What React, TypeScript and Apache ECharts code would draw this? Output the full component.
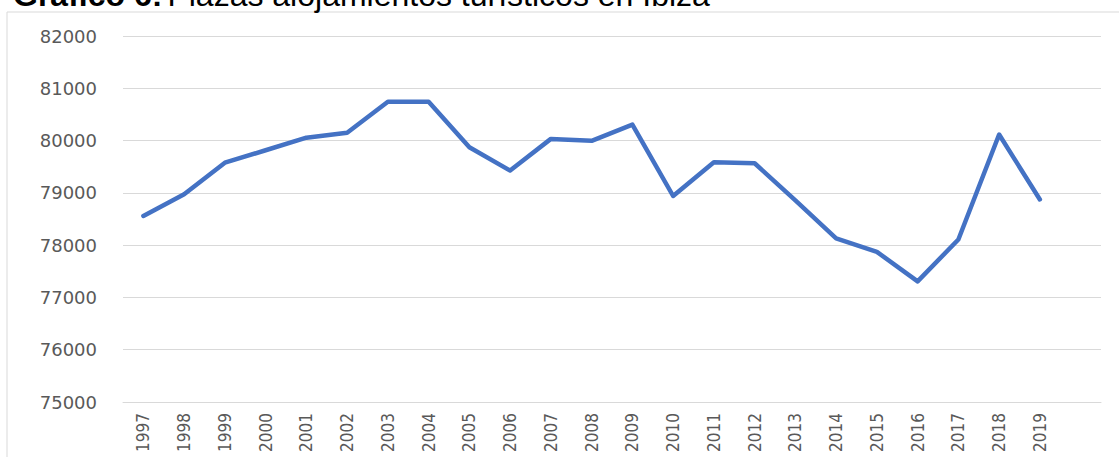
import React, { useEffect, useRef } from "react";
import * as echarts from "echarts";

const years = [
  "1997", "1998", "1999", "2000", "2001", "2002", "2003", "2004", "2005", "2006", "2007", "2008",
  "2009", "2010", "2011", "2012", "2013", "2014", "2015", "2016", "2017", "2018", "2019", "",
];
const plazas = [
  78558, 78973, 79577, 79815, 80055, 80151, 80744, 80744, 79872, 79426, 80032, 79995,
  80306, 78940, 79585, 79566, 78855, 78128, 77872, 77306, 78109, 80115, 78874, null,
];
const yMin = 75000;
const yMax = 82000;
const yStep = 1000;
const titleBold = "Gráfico 6:";
const titleRest = "Plazas alojamientos turísticos en Ibiza";

export default function App() {
  const ref = useRef<HTMLDivElement>(null);
  useEffect(() => {
    if (!ref.current) return;
    const chart = echarts.init(ref.current, null, { renderer: "svg" });
    chart.setOption({
      animation: false,
      backgroundColor: "#ffffff",
      title: {
        left: 8,
        top: -26,
        text: `{b|${titleBold}} {n|${titleRest}}`,
        textStyle: {
          fontWeight: "normal",
          rich: {
            b: { fontFamily: "'Liberation Sans', Arial, sans-serif", fontSize: 32, fontWeight: "bold", color: "#000", lineHeight: 32 },
            n: { fontFamily: "'Liberation Sans', Arial, sans-serif", fontSize: 32, fontWeight: "normal", color: "#000", lineHeight: 32 },
          },
        },
      },
      graphic: [
        {
          type: "rect",
          shape: { x: 7, y: 12, width: 1140, height: 470 },
          style: { fill: "none", stroke: "#d9d9d9", lineWidth: 1 },
          silent: true,
        },
      ],
      grid: { left: 123, right: 18, top: 36, bottom: 55, containLabel: false },
      xAxis: {
        type: "category",
        data: years,
        boundaryGap: true,
        axisLine: { show: true, lineStyle: { color: "#d9d9d9", width: 1 } },
        axisTick: { show: false },
        axisLabel: {
          rotate: 90,
          interval: 0,
          margin: 11,
          color: "#595959",
          fontSize: 17,
          fontFamily: "'DejaVu Sans Condensed', 'Liberation Sans', sans-serif",
        },
      },
      yAxis: {
        type: "value",
        min: yMin,
        max: yMax,
        interval: yStep,
        axisLine: { show: false },
        axisTick: { show: false },
        splitLine: { lineStyle: { color: "#d9d9d9", width: 1 } },
        axisLabel: {
          margin: 26,
          color: "#595959",
          fontSize: 18,
          fontFamily: "'DejaVu Sans', sans-serif",
          padding: [0, 0, 8, 0],
          formatter: (v: number) => String(v),
        },
      },
      series: [
        {
          type: "line",
          data: plazas,
          showSymbol: false,
          symbol: "none",
          lineStyle: { color: "#4472C4", width: 4.5, join: "round", cap: "round" },
          itemStyle: { color: "#4472C4" },
        },
      ],
    });
    return () => chart.dispose();
  }, []);
  return (
    <div
      ref={ref}
      style={{ position: "fixed", left: 0, top: 0, width: 1119, height: 457 }}
    />
  );
}
